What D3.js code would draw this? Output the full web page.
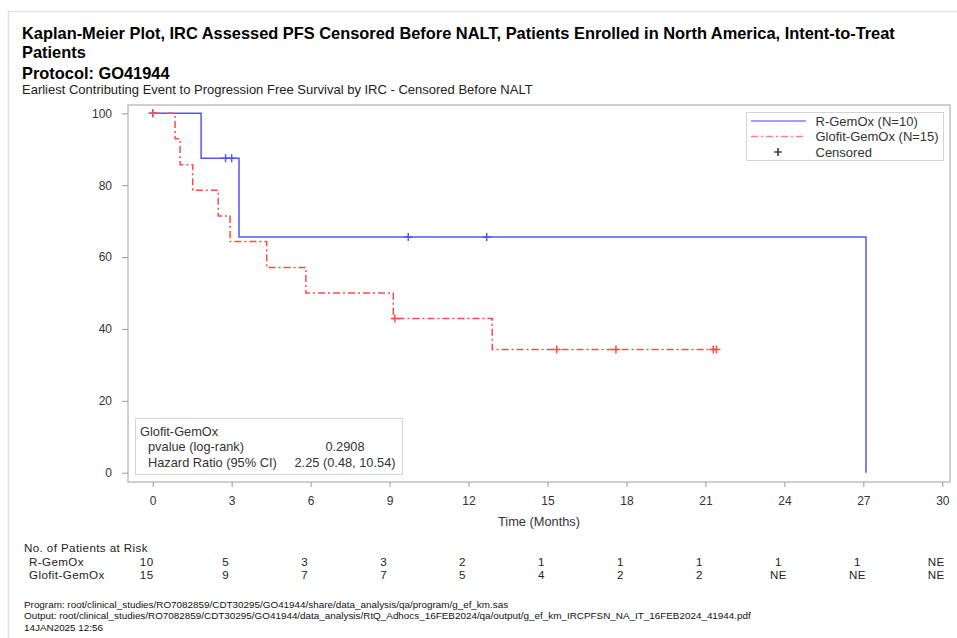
<!DOCTYPE html>
<html>
<head>
<meta charset="utf-8">
<script src="https://cdn.jsdelivr.net/npm/d3@7"></script>
<style>
  body { margin: 0; background: #fff; }
  svg { display: block; font-family: "Liberation Sans", Arial, sans-serif; }
</style>
</head>
<body>
<svg id="km" width="957" height="638"></svg>
<script>
// --- datos ---
const titleLines = [
    "Kaplan-Meier Plot, IRC Assessed PFS Censored Before NALT, Patients Enrolled in North America, Intent-to-Treat",
    "Patients",
    "Protocol: GO41944"
];
const subtitle = "Earliest Contributing Event to Progression Free Survival by IRC - Censored Before NALT";

const seriesNames = ["R-GemOx (N=10)", "Glofit-GemOx (N=15)"];
const riskLabels = ["R-GemOx", "Glofit-GemOx"];

// R-GemOx: tiempos de evento y supervivencia (%)
const rTimes = [0, 1.84, 3.28, 27.1];
const rSurv = [100, 87.5, 65.6, 0];
const rEnd = 27.1;
const rCensor = [0, 2.77, 3.0, 9.71, 12.69];

// Glofit-GemOx
const gTimes = [0, 0.85, 1.04, 1.52, 2.49, 2.94, 4.33, 5.82, 9.14, 12.9];
const gSurv = [100, 92.9, 85.7, 78.6, 71.4, 64.3, 57.1, 50.0, 42.9, 34.3];
const gEnd = 21.42;
const gCensor = [0, 9.2, 15.35, 17.6, 21.3, 21.42];

const xTicks = [0, 3, 6, 9, 12, 15, 18, 21, 24, 27, 30];
const yTicks = [0, 20, 40, 60, 80, 100];

const riskR = ["10", "5", "3", "3", "2", "1", "1", "1", "1", "1", "NE"];
const riskG = ["15", "9", "7", "7", "5", "4", "2", "2", "NE", "NE", "NE"];

const statsTitle = "Glofit-GemOx";
const statsRows = [
    ["pvalue (log-rank)", "0.2908"],
    ["Hazard Ratio (95% CI)", "2.25 (0.48, 10.54)"]
];

const footnotes = [
    "Program: root/clinical_studies/RO7082859/CDT30295/GO41944/share/data_analysis/qa/program/g_ef_km.sas",
    "Output: root/clinical_studies/RO7082859/CDT30295/GO41944/data_analysis/RtQ_Adhocs_16FEB2024/qa/output/g_ef_km_IRCPFSN_NA_IT_16FEB2024_41944.pdf",
    "14JAN2025 12:56"
];

const blue = "#5454ff";
const red = "#ff4a4a";

// --- dibujo ---
const svg = d3.select("#km");

// borde de página
svg.append("path")
    .attr("d", "M8.5,638 V11.5 H957")
    .attr("fill", "none")
    .attr("stroke", "#e2e2e2")
    .attr("stroke-width", 1.5);

// títulos
svg.selectAll(".title")
    .data(titleLines)
    .enter()
    .append("text")
    .attr("x", 22)
    .attr("y", (d, i) => [39, 57.5, 79][i])
    .style("font-size", "16.4px")
    .style("font-weight", "bold")
    .attr("fill", "#000")
    .text(d => d);

svg.append("text")
    .attr("x", 22)
    .attr("y", 94)
    .style("font-size", "13px")
    .attr("fill", "#222")
    .text(subtitle);

const plot = { left: 128, right: 950, top: 105, bottom: 482 };

const x = d3.scaleLinear().domain([0, 30]).range([152.7, 942.3]);
const y = d3.scaleLinear().domain([0, 100]).range([472.7, 113.3]);

// marco
svg.append("rect")
    .attr("x", plot.left)
    .attr("y", plot.top)
    .attr("width", plot.right - plot.left)
    .attr("height", plot.bottom - plot.top)
    .attr("fill", "none")
    .attr("stroke", "#c4c4c4")
    .attr("stroke-width", 1.6);

// ejes
const xAxis = svg.append("g")
    .attr("transform", `translate(0,${plot.bottom})`)
    .call(d3.axisBottom(x).tickValues(xTicks).tickSize(5).tickPadding(9).tickFormat(d3.format("d")));
const yAxis = svg.append("g")
    .attr("transform", `translate(${plot.left},0)`)
    .call(d3.axisLeft(y).tickValues(yTicks).tickSize(6).tickPadding(10).tickFormat(d3.format("d")));

[xAxis, yAxis].forEach(ax => {
    ax.select(".domain").remove();
    ax.selectAll("line").attr("stroke", "#9a9a9a").attr("stroke-width", 1);
    ax.selectAll("text")
        .style("font-size", "12px")
        .style("font-family", "Liberation Sans, Arial, sans-serif")
        .attr("fill", "#333");
});

svg.append("text")
    .attr("x", (plot.left + plot.right) / 2)
    .attr("y", 526)
    .attr("text-anchor", "middle")
    .style("font-size", "12.8px")
    .attr("fill", "#333")
    .text("Time (Months)");

// curvas KM
const stepLine = d3.line()
    .x(d => x(d[0]))
    .y(d => y(d[1]))
    .curve(d3.curveStepAfter);

function curvePoints(times, surv, end) {
    const pts = times.map((t, i) => [t, surv[i]]);
    if (end > times[times.length - 1]) pts.push([end, surv[surv.length - 1]]);
    return pts;
}

function survAt(times, surv, t) {
    let s = surv[0];
    times.forEach((tt, i) => { if (tt <= t) s = surv[i]; });
    return s;
}

const series = [
    { times: rTimes, surv: rSurv, end: rEnd, censor: rCensor, color: blue, dash: null },
    { times: gTimes, surv: gSurv, end: gEnd, censor: gCensor, color: red, dash: "7,3,2,3" }
];

series.forEach(s => {
    svg.append("path")
        .datum(curvePoints(s.times, s.surv, s.end))
        .attr("d", stepLine)
        .attr("fill", "none")
        .attr("stroke", s.color)
        .attr("stroke-width", 1.5)
        .attr("stroke-dasharray", s.dash);
});

// marcas de censura
series.forEach(s => {
    const g = svg.append("g");
    s.censor.forEach(t => {
        const cx = x(t), cy = y(survAt(s.times, s.surv, t));
        g.append("path")
            .attr("d", `M${cx - 4},${cy} H${cx + 4} M${cx},${cy - 4} V${cy + 4}`)
            .attr("stroke", s.color)
            .attr("stroke-width", 1.5)
            .attr("fill", "none");
    });
});

// leyenda
const leg = svg.append("g");
leg.append("rect")
    .attr("x", 746.5).attr("y", 112.5)
    .attr("width", 197).attr("height", 48)
    .attr("fill", "#fff")
    .attr("stroke", "#d4d4d4");

const legRows = [
    { label: seriesNames[0], color: "#7f7fff", dash: null, type: "line" },
    { label: seriesNames[1], color: "#ff8080", dash: "7,3,2,3", type: "line" },
    { label: "Censored", color: "#000", type: "plus" }
];
legRows.forEach((r, i) => {
    const ly = 121 + i * 15.5;
    if (r.type === "line") {
        leg.append("line")
            .attr("x1", 751).attr("x2", 806)
            .attr("y1", ly).attr("y2", ly)
            .attr("stroke", r.color)
            .attr("stroke-width", 1.5)
            .attr("stroke-dasharray", r.dash);
    } else {
        leg.append("path")
            .attr("d", `M${778 - 4},${ly} H${778 + 4} M778,${ly - 4} V${ly + 4}`)
            .attr("stroke", r.color)
            .attr("stroke-width", 1.2);
    }
    leg.append("text")
        .attr("x", 815.5)
        .attr("y", ly + 4.5)
        .style("font-size", "13px")
        .attr("fill", "#333")
        .text(r.label);
});

// caja de estadísticos
const st = svg.append("g");
st.append("rect")
    .attr("x", 135.5).attr("y", 418.5)
    .attr("width", 267).attr("height", 56)
    .attr("fill", "#fff")
    .attr("stroke", "#d4d4d4");
st.append("text")
    .attr("x", 140).attr("y", 436)
    .style("font-size", "12.8px")
    .attr("fill", "#333")
    .text(statsTitle);
statsRows.forEach((r, i) => {
    st.append("text")
        .attr("x", 148).attr("y", 451 + i * 15.5)
        .style("font-size", "12.8px")
        .attr("fill", "#333")
        .text(r[0]);
    st.append("text")
        .attr("x", 345).attr("y", 451 + i * 15.5)
        .attr("text-anchor", "middle")
        .style("font-size", "12.8px")
        .attr("fill", "#333")
        .text(r[1]);
});

// tabla de pacientes en riesgo
const risk = svg.append("g")
    .style("font-size", "11.6px")
    .style("letter-spacing", "0.4px")
    .attr("fill", "#222");
risk.append("text").attr("x", 24).attr("y", 552).text("No. of Patients at Risk");
riskLabels.forEach((lab, i) => {
    risk.append("text").attr("x", 29).attr("y", 565.5 + i * 13.5).text(lab);
});
[riskR, riskG].forEach((row, i) => {
    risk.selectAll(null)
        .data(row)
        .enter()
        .append("text")
        .attr("x", (d, j) => x(xTicks[j]) - 6)
        .attr("y", 565.5 + i * 13.5)
        .attr("text-anchor", "middle")
        .text(d => d);
});

// notas al pie
svg.selectAll(".foot")
    .data(footnotes)
    .enter()
    .append("text")
    .attr("x", 24)
    .attr("y", (d, i) => 607.5 + i * 11.5)
    .style("font-size", "9.9px")
    .attr("fill", "#111")
    .text(d => d);
</script>
</body>
</html>
